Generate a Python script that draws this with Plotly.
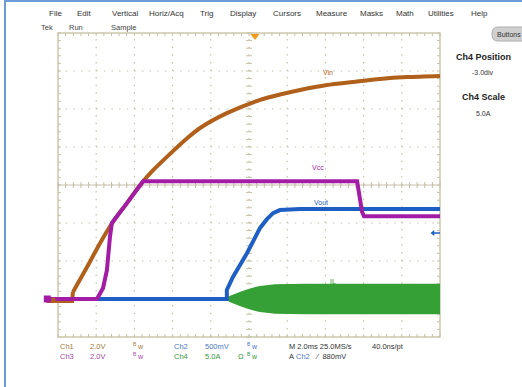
import plotly.graph_objects as go

# ---------------- data (screen divisions: x 0..10, y 0..8) ----------------
vin_x = [-0.30, 0.37, 0.39, 0.76, 1.10, 1.44, 1.81, 2.15, 2.49, 2.85, 3.38, 3.72,
         4.42, 5.29, 5.81, 6.34, 7.04, 7.72, 8.43, 9.14, 10.0]
vin_y = [0.95, 0.95, 1.18, 1.84, 2.47, 3.03, 3.53, 4.00, 4.39, 4.74, 5.23, 5.50,
         5.89, 6.24, 6.38, 6.50, 6.63, 6.71, 6.79, 6.84, 6.87]

vcc_x = [-0.34, 1.02, 1.18, 1.28, 1.36, 1.41, 1.81, 2.23, 7.83, 7.96, 8.01, 10.0]
vcc_y = [1.00, 1.00, 1.29, 1.76, 2.63, 3.00, 3.53, 4.10, 4.10, 3.29, 3.18, 3.18]

vout_x = [1.02, 4.42, 4.42, 4.58, 4.95, 5.29, 5.47, 5.63, 5.81, 6.34, 10.0]
vout_y = [1.00, 1.00, 1.24, 1.58, 2.21, 2.87, 3.10, 3.26, 3.34, 3.37, 3.37]

il_x = [1.02, 4.42, 4.50, 4.63, 4.80, 4.95, 5.10, 5.29, 5.50, 5.68, 6.5, 8.0, 10.0]
il_center = [1.03, 1.0, 1.0, 1.0, 1.0, 1.0, 1.0, 1.0, 1.0, 1.0, 1.0, 1.0, 1.0]
il_half = [0.0, 0.0, 0.06, 0.12, 0.18, 0.23, 0.28, 0.32, 0.35, 0.37, 0.38, 0.38, 0.38]

trace_labels = ["Vin", "Vcc", "Vout", "IL"]
label_x = [7.07, 6.81, 6.88, 7.20]
label_y = [6.95, 4.45, 3.53, 1.47]

menu_items = ["File", "Edit", "Vertical", "Horiz/Acq", "Trig", "Display", "Cursors",
              "Measure", "Masks", "Math", "Utilities", "Help"]
menu_px = [55, 84, 125, 166, 206, 243, 287, 332, 371, 405, 441, 479]

N_XDIV = 10
N_YDIV = 8

# ---------------- geometry ----------------
W, H = 522, 387
X0, X1 = 58.0, 440.0     # plot frame pixels
Y0, Y1 = 337.0, 33.0
DX = (X1 - X0) / N_XDIV
DY = (Y0 - Y1) / N_YDIV
xr = [(0 - X0) / DX, (W - X0) / DX]
yr = [(Y0 - H) / DY, (Y0 - 0) / DY]


def px(x):
    return x / W


def py(y):
    return 1 - y / H


C_VIN = "#b0601a"
C_VCC = "#a21ca6"
C_VOUT = "#1f5fc4"
C_IL = "#35a035"
GRID = "#c7c1aa"

fig = go.Figure()

# tick marks on border and centre cross
tx, ty = [], []
tl_x = 3.0 / DY
tl_y = 3.0 / DX
n = 0
while n <= N_XDIV * 5:
    x = n * 0.2
    for (ya, yb) in [(0, tl_x), (N_YDIV - tl_x, N_YDIV), (N_YDIV / 2 - tl_x, N_YDIV / 2 + tl_x)]:
        tx += [x, x, None]
        ty += [ya, yb, None]
    n += 1
n = 0
while n <= N_YDIV * 5:
    y = n * 0.2
    for (xa, xb) in [(0, tl_y), (N_XDIV - tl_y, N_XDIV), (N_XDIV / 2 - tl_y, N_XDIV / 2 + tl_y)]:
        tx += [xa, xb, None]
        ty += [y, y, None]
    n += 1
fig.add_trace(go.Scatter(x=tx, y=ty, mode="lines", line=dict(color=GRID, width=1),
                         hoverinfo="skip", showlegend=False))

# IL envelope
il_up = [c + h for c, h in zip(il_center, il_half)]
il_lo = [c - h for c, h in zip(il_center, il_half)]
fig.add_trace(go.Scatter(x=il_x, y=il_lo, mode="lines", line=dict(color=C_IL, width=1.5),
                         showlegend=False))
fig.add_trace(go.Scatter(x=il_x, y=il_up, mode="lines", line=dict(color=C_IL, width=1.5),
                         fill="tonexty", fillcolor=C_IL, showlegend=False))
# Vout
fig.add_trace(go.Scatter(x=vout_x, y=vout_y, mode="lines", line=dict(color=C_VOUT, width=4),
                         showlegend=False))
# Vin (ground part + smooth rise)
fig.add_trace(go.Scatter(x=vin_x[:3], y=vin_y[:3], mode="lines",
                         line=dict(color=C_VIN, width=4), showlegend=False))
fig.add_trace(go.Scatter(x=vin_x[2:], y=vin_y[2:], mode="lines",
                         line=dict(color=C_VIN, width=4, shape="spline", smoothing=0.8),
                         showlegend=False))
# Vcc
fig.add_trace(go.Scatter(x=vcc_x, y=vcc_y, mode="lines", line=dict(color=C_VCC, width=4),
                         showlegend=False))

# trigger markers
fig.add_trace(go.Scatter(x=[(255 - X0) / DX], y=[(Y0 - 36) / DY], mode="markers",
                         marker=dict(symbol="triangle-down", size=8, color="#f39a1e"),
                         showlegend=False))
fig.add_trace(go.Scatter(x=[(432 - X0) / DX, 10.0], y=[(Y0 - 233) / DY] * 2, mode="lines",
                         line=dict(color=C_VOUT, width=1.5), showlegend=False))
fig.add_trace(go.Scatter(x=[(433 - X0) / DX], y=[(Y0 - 233) / DY], mode="markers",
                         marker=dict(symbol="triangle-left", size=5, color=C_VOUT),
                         showlegend=False))
# ground indicators
fig.add_trace(go.Scatter(x=[-0.28], y=[1.0], mode="markers",
                         marker=dict(symbol="square", size=7, color=C_VCC), showlegend=False))
fig.add_trace(go.Scatter(x=[-0.12], y=[0.98], mode="markers",
                         marker=dict(symbol="square", size=4, color=C_VIN), showlegend=False))

shapes = []
for i in range(1, N_XDIV):
    shapes.append(dict(type="line", xref="x", yref="y", x0=i, x1=i, y0=0, y1=N_YDIV,
                       line=dict(color=GRID, width=1.2, dash="1.5px,6.1px"), layer="below"))
for j in range(1, N_YDIV):
    shapes.append(dict(type="line", xref="x", yref="y", x0=0, x1=N_XDIV, y0=j, y1=j,
                       line=dict(color=GRID, width=1.2, dash="1.5px,6.14px"), layer="below"))
shapes.append(dict(type="line", xref="x", yref="y", x0=0, x1=N_XDIV, y0=N_YDIV / 2, y1=N_YDIV / 2,
                   line=dict(color=GRID, width=1), layer="below"))
shapes.append(dict(type="rect", xref="x", yref="y", x0=0, x1=N_XDIV, y0=0, y1=N_YDIV,
                   line=dict(color="#cdc9ac", width=1.5), layer="below"))
# window frame
shapes.append(dict(type="line", xref="paper", yref="paper", x0=px(5), x1=px(5), y0=0, y1=1,
                   line=dict(color="#6d9bd6", width=2)))
shapes.append(dict(type="line", xref="paper", yref="paper", x0=px(5), x1=1, y0=py(1), y1=py(1),
                   line=dict(color="#6d9bd6", width=2)))
# Buttons pill (rounded)
bx0, bx1, by0, by1, r = 492, 530, 27, 41, 6
pill = ("M {a},{t} L {b},{t} Q {c},{t} {c},{tm} L {c},{bm} Q {c},{bo} {b},{bo} "
        "L {a},{bo} Q {d},{bo} {d},{bm} L {d},{tm} Q {d},{t} {a},{t} Z").format(
    a=px(bx0 + r), b=px(bx1 - r), c=px(bx1), d=px(bx0),
    t=py(by0), bo=py(by1), tm=py(by0 + r), bm=py(by1 - r))
shapes.append(dict(type="path", xref="paper", yref="paper", path=pill,
                   fillcolor="#cfcfcf", line=dict(color="#b0b0b0", width=1)))

ann = []
FONT = "Liberation Sans, Arial, sans-serif"


def text(t, x, y, size=8, color="#333333", anchor="left", bold=False):
    ann.append(dict(text=("<b>%s</b>" % t) if bold else t, x=px(x), y=py(y), xref="paper",
                    yref="paper", showarrow=False, xanchor=anchor, yanchor="middle",
                    font=dict(family=FONT, size=size, color=color)))


for m, mx in zip(menu_items, menu_px):
    text(m, mx, 13, 8, "#333333", "center")
text("Tek", 47, 28, 7.5, "#444444", "center")
text("Run", 76, 28, 7.5, "#444444", "center")
text("Sample", 123, 28, 7.5, "#444444", "center")
text("Buttons", 495, 34, 7, "#333333", "left")
text("Ch4 Position", 483, 57, 9, "#222222", "center", bold=True)
text("-3.0div", 483, 73, 7, "#333333", "center")
text("Ch4 Scale", 483, 97, 9, "#222222", "center", bold=True)
text("5.0A", 483, 113, 7, "#333333", "center")

for t, lx, ly, c in zip(trace_labels, label_x, label_y, [C_VIN, C_VCC, C_VOUT, "#2f8f2f"]):
    ann.append(dict(text=t, x=lx, y=ly, xref="x", yref="y", showarrow=False,
                    font=dict(family=FONT, size=7, color=c)))


def bw(x, y, color):
    text("B", x - 2, y - 2, 5, color)
    text("w", x + 1.5, y, 7, color)


c1, c2, c3, c4 = "#a57a3c", "#4a78c4", "#a646a6", "#3a9a3a"
text("Ch1", 58, 346, 7.5, c1)
text("2.0V", 88, 346, 7.5, c1)
bw(133, 346, c1)
text("Ch2", 172, 346, 7.5, c2)
text("500mV", 203, 346, 7.5, c2)
bw(247, 346, c2)
text("M 2.0ms 25.0MS/s", 287, 346, 7.5, "#333333")
text("40.0ns/pt", 370, 346, 7.5, "#333333")
text("Ch3", 58, 356, 7.5, c3)
text("2.0V", 88, 356, 7.5, c3)
bw(133, 356, c3)
text("Ch4", 172, 356, 7.5, c4)
text("5.0A", 203, 356, 7.5, c4)
text("Ω", 236, 356, 7.5, c4)
bw(247, 356, c4)
text("A", 287, 356, 7.5, "#333333")
text("Ch2", 294, 356, 7.5, c2)
text("∕  880mV", 313, 356, 7.5, "#333333")

fig.update_layout(
    width=W, height=H, margin=dict(l=0, r=0, t=0, b=0),
    paper_bgcolor="white", plot_bgcolor="white",
    xaxis=dict(range=xr, domain=[0, 1], visible=False, fixedrange=True),
    yaxis=dict(range=yr, domain=[0, 1], visible=False, fixedrange=True),
    shapes=shapes, annotations=ann, showlegend=False,
)
fig.write_html("out.html", config={"displayModeBar": False},
               post_script="document.body.style.margin='0';document.body.style.overflow='hidden';")
